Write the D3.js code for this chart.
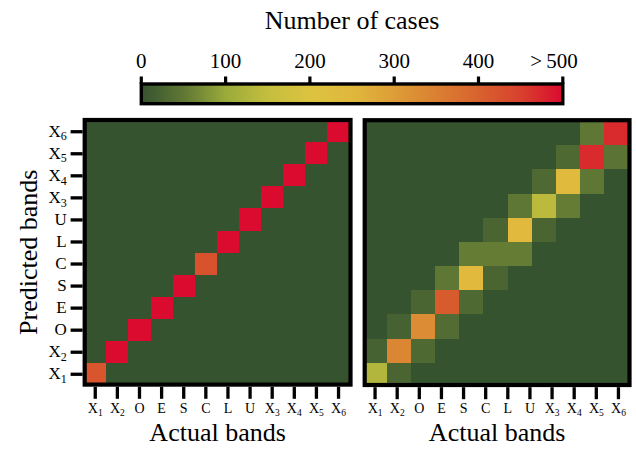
<!DOCTYPE html>
<html>
<head>
<meta charset="utf-8">
<script src="https://cdn.jsdelivr.net/npm/d3@7"></script>
<style>
  html, body { margin: 0; padding: 0; background: #fff; }
  svg { display: block; font-family: "Liberation Serif", "Times New Roman", serif; }
</style>
</head>
<body>
<svg id="chart" width="636" height="458"></svg>
<script>
// ---------- data ----------
const bandLabels = ["X1", "X2", "O", "E", "S", "C", "L", "U", "X3", "X4", "X5", "X6"];
// left panel: diagonal counts (off-diagonal cells are 0)
const leftDiagonal = [420, 520, 520, 520, 520, 425, 520, 520, 520, 520, 520, 520];
// right panel: 11 x 11 grid as drawn, rows = predicted (bottom to top), cols = actual
const rightCounts = [
  [130, 25, 0, 0, 0, 0, 0, 0, 0, 0, 0],
  [20, 340, 30, 0, 0, 0, 0, 0, 0, 0, 0],
  [0, 20, 330, 35, 0, 0, 0, 0, 0, 0, 0],
  [0, 0, 25, 410, 30, 0, 0, 0, 0, 0, 0],
  [0, 0, 0, 50, 245, 25, 0, 0, 0, 0, 0],
  [0, 0, 0, 0, 55, 55, 55, 0, 0, 0, 0],
  [0, 0, 0, 0, 0, 25, 245, 25, 0, 0, 0],
  [0, 0, 0, 0, 0, 0, 50, 140, 55, 0, 0],
  [0, 0, 0, 0, 0, 0, 0, 30, 240, 50, 0],
  [0, 0, 0, 0, 0, 0, 0, 0, 30, 470, 45],
  [0, 0, 0, 0, 0, 0, 0, 0, 0, 50, 470]
];
const colorTicks = [0, 100, 200, 300, 400, 500];
const colorTickLabels = ["0", "100", "200", "300", "400", ">500"];
const colorStops = [0, 50, 100, 150, 200, 250, 300, 350, 400, 450, 500];
const colorStopColors = ["#365330", "#5f7734", "#9aaa3a", "#c4be3e", "#dcc33f", "#e0b83d",
                         "#dd9d37", "#da8032", "#d8622e", "#d8412d", "#db0a2f"];

// ---------- setup ----------
const svg = d3.select("#chart");
const color = d3.scaleLinear().domain(colorStops).range(colorStopColors).clamp(true);

// ---------- colorbar ----------
const cbX = d3.scaleLinear().domain([0, 500]).range([141.3, 562.8]);
const cbY0 = 84, cbY1 = 103.7;
const defs = svg.append("defs");
const grad = defs.append("linearGradient").attr("id", "cbgrad")
  .attr("x1", "0%").attr("x2", "100%").attr("y1", "0%").attr("y2", "0%");
d3.range(0, 501, 10).forEach(v => {
  grad.append("stop").attr("offset", (v / 500 * 100) + "%").attr("stop-color", color(v));
});
svg.append("text").attr("x", (cbX(0) + cbX(500)) / 2).attr("y", 29.3)
  .attr("text-anchor", "middle").attr("font-size", 26).text("Number of cases");
svg.append("rect").attr("x", cbX(0)).attr("y", cbY0)
  .attr("width", cbX(500) - cbX(0)).attr("height", cbY1 - cbY0)
  .attr("fill", "url(#cbgrad)").attr("stroke", "#000").attr("stroke-width", 3.4);
svg.selectAll(".cbtick").data(colorTicks).join("line")
  .attr("x1", d => cbX(d)).attr("x2", d => cbX(d))
  .attr("y1", 76.5).attr("y2", cbY0)
  .attr("stroke", "#000").attr("stroke-width", 3.2);
svg.selectAll(".cblab").data(colorTicks).join("text")
  .attr("x", d => cbX(d)).attr("y", 68.3)
  .attr("text-anchor", "middle").attr("font-size", 21)
  .each(function (d, i) {
    const t = d3.select(this);
    const lab = colorTickLabels[i];
    if (lab.startsWith(">")) {
      t.attr("text-anchor", "end").attr("x", cbX(d) + 15).text(lab.replace(">", ">\u2009"));
    } else t.text(lab);
  });

// ---------- label helper ----------
function subLabel(sel, lab, subSize, dy) {
  const m = /^X(\d)$/.exec(lab);
  if (m) {
    sel.append("tspan").text("X");
    sel.append("tspan").attr("font-size", subSize).attr("dy", dy).text(m[1]);
  } else sel.text(lab);
}

// ---------- panels ----------
function panel(id, frame, cellRangeX, cellRangeY, cellCats, cellData, tickRangeX, tickRangeY, showY) {
  const g = svg.append("g");
  const clip = defs.append("clipPath").attr("id", "clip" + id);
  clip.append("rect").attr("x", frame.x0).attr("y", frame.y0)
    .attr("width", frame.x1 - frame.x0).attr("height", frame.y1 - frame.y0);

  const cx = d3.scaleBand().domain(cellCats).range(cellRangeX);
  const cy = d3.scaleBand().domain(cellCats).range([cellRangeY[1], cellRangeY[0]]);
  const cells = [];
  cellData.forEach((row, r) => row.forEach((v, c) => cells.push({ r, c, v })));
  g.append("g").attr("clip-path", `url(#clip${id})`)
    .selectAll("rect").data(cells).join("rect")
    .attr("x", d => cx(cellCats[d.c]))
    .attr("y", d => cy(cellCats[d.r]))
    .attr("width", cx.bandwidth())
    .attr("height", cy.bandwidth())
    .attr("shape-rendering", "crispEdges")
    .attr("fill", d => color(d.v));

  // x axis ticks (labels from 12 band categories)
  const tx = d3.scaleBand().domain(bandLabels).range(tickRangeX);
  const xAxis = d3.axisBottom(tx).tickSize(12).tickFormat("");
  const ax = g.append("g").attr("transform", `translate(0,${frame.y1 + 2.2})`).call(xAxis);
  ax.select(".domain").remove();
  ax.selectAll(".tick line").attr("stroke", "#000").attr("stroke-width", 3.3);
  ax.selectAll(".tick").each(function (d) {
    const t = d3.select(this).append("text").attr("y", 413.3 - frame.y1 - 2.2)
      .attr("fill", "#000").attr("text-anchor", "middle")
      .attr("font-size", 14).attr("font-family", "Liberation Serif, serif");
    subLabel(t, d, 9.5, "0.28em");
  });
  g.append("text").attr("x", (frame.x0 + frame.x1) / 2).attr("y", 440.5)
    .attr("text-anchor", "middle").attr("font-size", 26).text("Actual bands");

  if (showY) {
    const ty = d3.scaleBand().domain(bandLabels).range([tickRangeY[1], tickRangeY[0]]);
    const yAxis = d3.axisLeft(ty).tickSize(12).tickFormat("");
    const ay = g.append("g").attr("transform", `translate(${frame.x0 - 2.1},0)`).call(yAxis);
    ay.select(".domain").remove();
    ay.selectAll(".tick line").attr("stroke", "#000").attr("stroke-width", 3.3);
    ay.selectAll(".tick").each(function (d) {
      const t = d3.select(this).append("text").attr("x", 66.7 - frame.x0 + 2.1).attr("dy", "0.3em")
        .attr("fill", "#000").attr("text-anchor", "end")
        .attr("font-size", 17).attr("font-family", "Liberation Serif, serif");
      subLabel(t, d, 12, "0.3em");
    });
    g.append("text").attr("transform", `translate(37,${(frame.y0 + frame.y1) / 2}) rotate(-90)`)
      .attr("text-anchor", "middle").attr("font-size", 26).text("Predicted bands");
  }

  g.append("rect").attr("x", frame.x0).attr("y", frame.y0)
    .attr("width", frame.x1 - frame.x0).attr("height", frame.y1 - frame.y0)
    .attr("fill", "none").attr("stroke", "#000").attr("stroke-width", 4.2);
}

// left panel: 12 x 12 matrix built from the diagonal counts
const leftCounts = bandLabels.map((_, r) => bandLabels.map((_, c) => r === c ? leftDiagonal[r] : 0));
panel("L", { x0: 84.7, x1: 350.5, y0: 120, y1: 384.6 },
  [84.2, 349.6], [120, 385.3], bandLabels, leftCounts,
  [84.2, 349.6], [120.7, 385.3], true);

// right panel: 11 x 11 grid as drawn in the source
const rightCats = d3.range(rightCounts.length).map(String);
panel("R", { x0: 364.7, x1: 629.5, y0: 120.2, y1: 385 },
  [363, 628], [121, 387], rightCats, rightCounts,
  [364, 629.5], null, false);
</script>
</body>
</html>
